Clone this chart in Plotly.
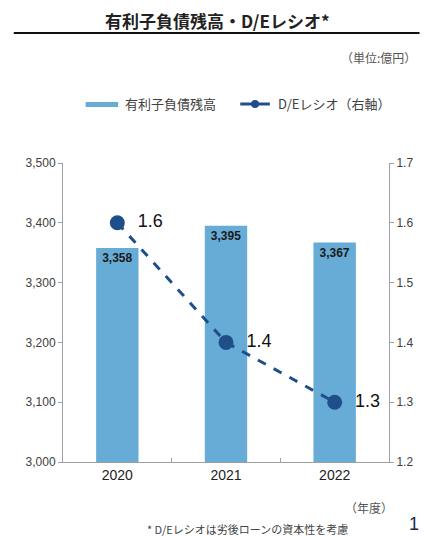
import plotly.graph_objects as go

years = ["2020", "2021", "2022"]
debt = [3358, 3395, 3367]
de_ratio = [1.6, 1.4, 1.3]
left_ticks = [3000, 3100, 3200, 3300, 3400, 3500]
right_ticks = [1.2, 1.3, 1.4, 1.5, 1.6, 1.7]

FONT = "Liberation Sans, Arial, Noto Sans CJK JP, sans-serif"
JP = "Noto Sans CJK JP, sans-serif"
BAR_C = "#67acd6"
LINE_C = "#1e4f8a"

W, H = 425, 536
L, R, T, B = 63, 31, 163, 74
PW, PH = W - L - R, H - T - B


def px(x):
    return (x - L) / PW


def py(y):
    return (H - B - y) / PH


fig = go.Figure()
fig.add_trace(go.Bar(
    x=years, y=debt, name="有利子負債残高",
    marker=dict(color=BAR_C, line=dict(width=0)),
    width=0.39,
    text=[f"<b>{v:,}</b>" for v in debt],
    textposition="inside", insidetextanchor="end",
    textfont=dict(family=FONT, size=12, color="#1a1a1a"),
    cliponaxis=False, showlegend=False,
))
fig.add_trace(go.Scatter(
    x=years, y=de_ratio, name="D/Eレシオ（右軸）", yaxis="y2",
    mode="lines+markers+text",
    line=dict(color=LINE_C, width=3, dash="dash"),
    marker=dict(color=LINE_C, size=15),
    text=[f"  {v:.1f}" for v in de_ratio],
    textposition="middle right",
    textfont=dict(family=FONT, size=18, color="#111111"),
    cliponaxis=False, showlegend=False,
))

fig.update_layout(
    width=W, height=H,
    margin=dict(l=L, r=R, t=T, b=B),
    paper_bgcolor="white", plot_bgcolor="white",
    font=dict(family=FONT, color="#404040"),
    xaxis=dict(
        type="category", showgrid=False, showline=True, linecolor="#a0a0a0", linewidth=1,
        ticks="inside", tickcolor="#a0a0a0", ticklen=4, tickson="boundaries",
        tickfont=dict(family=FONT, size=14, color="#222222"),
    ),
    yaxis=dict(
        range=[3000, 3500], tickvals=left_ticks,
        ticktext=[f"{v:,}" for v in left_ticks],
        showgrid=False, showline=True, linecolor="#a0a0a0", linewidth=1,
        ticks="outside", tickcolor="#a0a0a0", ticklen=4, zeroline=False,
        tickfont=dict(family=FONT, size=12, color="#404040"),
    ),
    yaxis2=dict(
        range=[1.2, 1.7], tickvals=right_ticks,
        ticktext=[f"{v:.1f}" for v in right_ticks],
        overlaying="y", side="right",
        showgrid=False, showline=True, linecolor="#a0a0a0", linewidth=1,
        ticks="outside", tickcolor="#a0a0a0", ticklen=4, zeroline=False,
        tickfont=dict(family=FONT, size=12, color="#404040"),
    ),
    showlegend=False,
)

# legend (drawn manually to match the wide swatch style)
fig.add_shape(type="rect", xref="paper", yref="paper",
              x0=px(86), x1=px(119), y0=py(107), y1=py(102),
              fillcolor=BAR_C, line=dict(width=0))
fig.add_annotation(
    text="有利子負債残高", xref="paper", yref="paper",
    x=px(124), xanchor="left", y=py(104), yanchor="middle", showarrow=False,
    font=dict(family=JP, size=13, color="#404040"),
)
fig.add_shape(type="line", xref="paper", yref="paper",
              x0=px(243), x1=px(273), y0=py(104), y1=py(104),
              line=dict(color=LINE_C, width=3))
fig.add_shape(type="circle", xref="paper", yref="paper",
              x0=px(254), x1=px(262), y0=py(108), y1=py(100),
              fillcolor=LINE_C, line=dict(width=0))
fig.add_annotation(
    text="D/Eレシオ（右軸）", xref="paper", yref="paper",
    x=px(279), xanchor="left", y=py(104), yanchor="middle", showarrow=False,
    font=dict(family=JP, size=13, color="#404040"),
)

fig.add_annotation(
    text="<b>有利子負債残高・D/Eレシオ*</b>", xref="paper", yref="paper",
    x=px(220), xanchor="center", y=py(20), yanchor="middle", showarrow=False,
    font=dict(family=JP, size=17, color="#222222"),
)
fig.add_shape(type="line", xref="paper", yref="paper",
              x0=px(13), x1=px(425), y0=py(33), y1=py(33),
              line=dict(color="#111111", width=2))
fig.add_annotation(
    text="（単位:億円）", xref="paper", yref="paper",
    x=px(423), xanchor="right", y=py(57), yanchor="middle", showarrow=False,
    font=dict(family=JP, size=12, color="#555555"),
)
fig.add_annotation(
    text="（年度）", xref="paper", yref="paper",
    x=px(400), xanchor="right", y=py(508), yanchor="middle", showarrow=False,
    font=dict(family=JP, size=12, color="#555555"),
)
fig.add_annotation(
    text="* D/Eレシオは劣後ローンの資本性を考慮", xref="paper", yref="paper",
    x=px(250), xanchor="center", y=py(529), yanchor="middle", showarrow=False,
    font=dict(family=JP, size=11, color="#444444"),
)
fig.add_annotation(
    text="1", xref="paper", yref="paper",
    x=px(412), xanchor="left", y=py(524), yanchor="middle", showarrow=False,
    font=dict(family=FONT, size=18, color="#1a2a4a"),
)

fig.write_html("out.html")
